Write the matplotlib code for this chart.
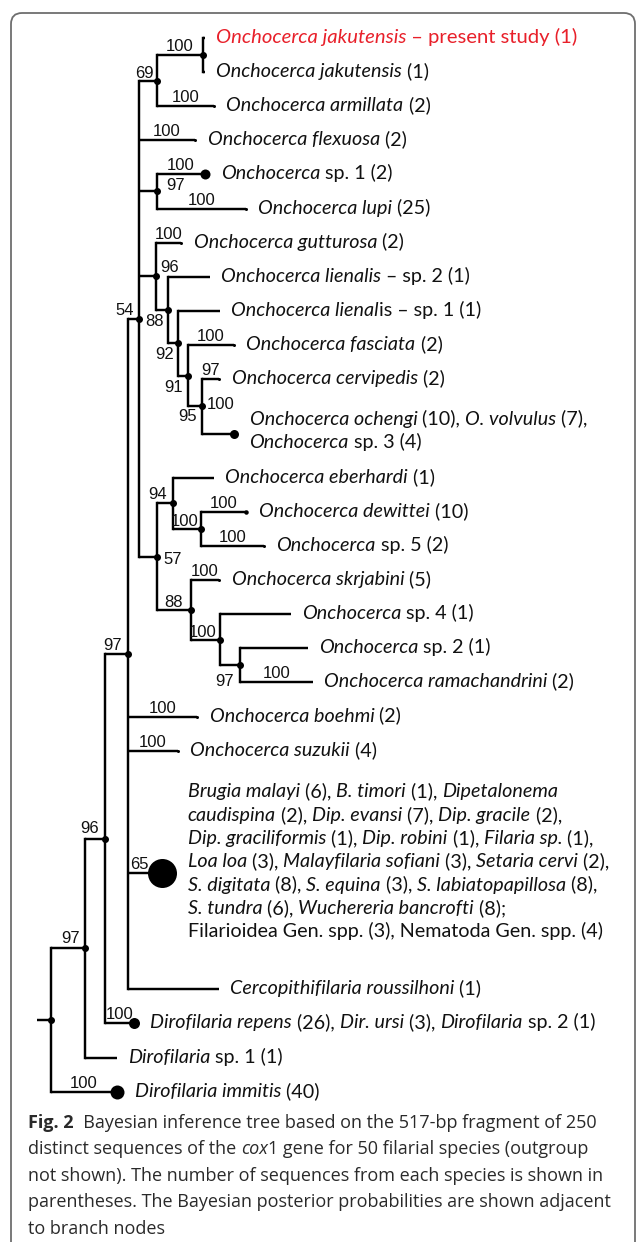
import re
import matplotlib
matplotlib.use("Agg")
import matplotlib.pyplot as plt
from matplotlib.font_manager import FontProperties
from matplotlib.patches import FancyBboxPatch
from matplotlib.transforms import IdentityTransform

# ============================ DATA ============================
# tree topology: node, parent, branch length (arbitrary units)
NODE = ["root", "n97b", "immitis", "n96", "dsp1", "n97a", "repens", "n54", "boehmi", "suzukii",
        "others", "cerco",
        "n69", "flexuosa", "n97s", "n96o", "n57", "n100j", "armillata", "jak_new", "jak", "sp1", "lupi",
        "gutturosa", "n88", "lien2", "n92", "lien1", "n91", "fasciata", "n95", "cervipedis", "ochengi",
        "n94", "n88b", "eberhardi", "n100d", "dewittei", "sp5", "skrjabini", "n100b", "sp4", "n97c",
        "sp2", "rama"]
PARENT = [None, "root", "root", "n97b", "n97b", "n96", "n96", "n97a", "n97a", "n97a",
          "n97a", "n97a",
          "n54", "n54", "n54", "n54", "n54", "n69", "n69", "n100j", "n100j", "n97s", "n97s",
          "n96o", "n96o", "n88", "n88", "n92", "n92", "n91", "n91", "n95", "n95",
          "n57", "n57", "n94", "n94", "n100d", "n100d", "n88b", "n88b", "n100b", "n100b",
          "n97c", "n97c"]
BRANCH = [14, 34, 66, 20, 32, 23, 29, 11, 69, 50,
          34, 91,
          18, 56, 18, 17, 18, 46, 57, 2, 2, 48, 89,
          25, 12, 42, 10, 42, 10, 46, 14, 17, 32,
          16, 34, 41, 28, 45, 63, 28, 29, 71, 20,
          68, 73]

# Bayesian posterior probabilities
SUPPORT_NODE = ["n100j", "armillata", "n69", "flexuosa", "sp1", "n97s", "lupi", "gutturosa", "n96o",
                "n54", "n88", "n92", "n91", "n95", "ochengi", "cervipedis", "fasciata", "n94",
                "n100d", "dewittei", "sp5", "n57", "skrjabini", "n88b", "n100b", "n97c", "rama",
                "n97a", "boehmi", "suzukii", "others", "n96", "n97b", "repens", "immitis"]
SUPPORT_VAL = [100, 100, 69, 100, 100, 97, 100, 100, 96,
               54, 88, 92, 91, 95, 100, 97, 100, 94,
               100, 100, 100, 57, 100, 88, 100, 97, 100,
               97, 100, 100, 65, 96, 97, 100, 100]

# leaf labels (*...* = italic)
LEAF_NAME = ["jak_new", "jak", "armillata", "flexuosa", "sp1", "lupi", "gutturosa", "lien2", "lien1",
             "fasciata", "cervipedis", "ochengi", "eberhardi", "dewittei", "sp5", "skrjabini", "sp4",
             "sp2", "rama", "boehmi", "suzukii", "others", "cerco", "repens", "dsp1", "immitis"]
LEAF_LABEL = [
    "*Onchocerca jakutensis* – present study (1)",
    "*Onchocerca jakutensis* (1)",
    "*Onchocerca armillata* (2)",
    "*Onchocerca flexuosa* (2)",
    "*Onchocerca* sp. 1 (2)",
    "*Onchocerca lupi* (25)",
    "*Onchocerca gutturosa* (2)",
    "*Onchocerca lienalis* – sp. 2 (1)",
    "*Onchocerca lienal*is – sp. 1 (1)",
    "*Onchocerca fasciata* (2)",
    "*Onchocerca cervipedis* (2)",
    "*Onchocerca ochengi* (10), *O. volvulus* (7),\n*Onchocerca* sp. 3 (4)",
    "*Onchocerca eberhardi* (1)",
    "*Onchocerca dewittei* (10)",
    "*Onchocerca* sp. 5 (2)",
    "*Onchocerca skrjabini* (5)",
    "*Onchocerca* sp. 4 (1)",
    "*Onchocerca* sp. 2 (1)",
    "*Onchocerca ramachandrini* (2)",
    "*Onchocerca boehmi* (2)",
    "*Onchocerca suzukii* (4)",
    "*Brugia malayi* (6), *B. timori* (1), *Dipetalonema*\n"
    "*caudispina* (2), *Dip. evansi* (7), *Dip. gracile* (2),\n"
    "*Dip. graciliformis* (1), *Dip. robini* (1), *Filaria sp.* (1),\n"
    "*Loa loa* (3), *Malayfilaria sofiani* (3), *Setaria cervi* (2),\n"
    "*S. digitata* (8), *S. equina* (3), *S. labiatopapillosa* (8),\n"
    "*S. tundra* (6), *Wuchereria bancrofti* (8);\n"
    "Filarioidea Gen. spp. (3), Nematoda Gen. spp. (4)",
    "*Cercopithifilaria roussilhoni* (1)",
    "*Dirofilaria repens* (26), *Dir. ursi* (3), *Dirofilaria* sp. 2 (1)",
    "*Dirofilaria* sp. 1 (1)",
    "*Dirofilaria immitis* (40)",
]

CAPTION = [
    "#Fig. 2#  Bayesian inference tree based on the 517-bp fragment of 250",
    "distinct sequences of the *cox*1 gene for 50 filarial species (outgroup",
    "not shown). The number of sequences from each species is shown in",
    "parentheses. The Bayesian posterior probabilities are shown adjacent",
    "to branch nodes",
]

# ============================ LAYOUT / STYLE ============================
LEAF_ROW = {"jak_new": 0, "jak": 1, "armillata": 2, "flexuosa": 3, "sp1": 4, "lupi": 5,
            "gutturosa": 6, "lien2": 7, "lien1": 8, "fasciata": 9, "cervipedis": 10,
            "ochengi": 11.6, "eberhardi": 12.9, "dewittei": 13.9, "sp5": 14.9, "skrjabini": 15.9,
            "sp4": 16.9, "sp2": 17.9, "rama": 18.9, "boehmi": 19.9, "suzukii": 20.9,
            "others": 24.5, "cerco": 27.9, "repens": 28.9, "dsp1": 29.9, "immitis": 30.9}
# support label placement: (anchor, ha, dx px, dy px up for baseline)
LABEL_POS = {
    "n69": ("node", "right", -3, 3), "n97s": ("node", "left", 9, 1),
    "n96o": ("node", "left", 4, 4), "n54": ("node", "right", -5, 4),
    "n88": ("node", "right", -4, -16), "n92": ("node", "right", -4, -16),
    "n91": ("node", "right", -5, -16), "n95": ("node", "right", -5, -15),
    "ochengi": ("node", "left", -27, 25), "n94": ("node", "right", -6, 4.5),
    "n100d": ("node", "right", -3, 3), "n57": ("node", "left", 6, -7),
    "n88b": ("node", "right", -8, 3), "n100b": ("node", "right", -3, 3),
    "n97c": ("node", "right", -6, -21), "n97a": ("node", "right", -6, 4),
    "n96": ("node", "right", -6, 6), "n97b": ("node", "right", -5, 5),
    "others": ("branch", "center", -6, 4),
}
TIP_DOT = {"sp1": 10, "ochengi": 9, "repens": 11, "immitis": 14, "others": 29, "dewittei": 4.5,
           "armillata": 3, "flexuosa": 3, "lupi": 3, "gutturosa": 3, "fasciata": 3, "cervipedis": 3,
           "skrjabini": 3, "sp5": 3, "boehmi": 3, "suzukii": 3}
FIRST_BASELINE = {"ochengi": -9, "others": -76}
RED_LEAF = "jak_new"

W, H, DPI = 636, 1242, 100
ROW_PX, ROW0_PX = 34.1, 38
X0_PX = 51           # pixel position of the root
LW = 1.75
LINE_SP = 23.3

fig = plt.figure(figsize=(W / DPI, H / DPI), dpi=DPI)
fig.patch.set_facecolor("white")
ax = fig.add_axes([0, 0, 1, 1])
ax.axis("off")
ax.set_xlim(-X0_PX, W - X0_PX)
ax.set_ylim((H - ROW0_PX) / ROW_PX, -ROW0_PX / ROW_PX)

renderer = fig.canvas.get_renderer()
IDT = IdentityTransform()

# ---------------- compute tree coordinates ----------------
parent = dict(zip(NODE, PARENT))
blen = dict(zip(NODE, BRANCH))
children = {n: [] for n in NODE}
for n, p in zip(NODE, PARENT):
    if p is not None:
        children[p].append(n)

xpos, ypos = {}, {}


def set_x(n, x):
    xpos[n] = x
    for c in children[n]:
        set_x(c, x + blen[c])


set_x("root", 0.0)


def get_y(n):
    if not children[n]:
        ypos[n] = LEAF_ROW[n]
    else:
        ys = [get_y(c) for c in children[n]]
        ypos[n] = (min(ys) + max(ys)) / 2.0
    return ypos[n]


get_y("root")

# ---------------- draw branches ----------------
ax.plot([-blen["root"], 0], [ypos["root"]] * 2, color="black", lw=LW, solid_capstyle="butt")
for n in NODE:
    ch = children[n]
    if not ch:
        continue
    ys = [ypos[c] for c in ch]
    ax.plot([xpos[n], xpos[n]], [min(ys), max(ys)], color="black", lw=LW,
            solid_capstyle="projecting")
    for c in ch:
        ax.plot([xpos[n], xpos[c]], [ypos[c], ypos[c]], color="black", lw=LW,
                solid_capstyle="butt")
    ax.plot(xpos[n], ypos[n], "o", ms=7 * 0.72, color="black", mew=0, zorder=5)

for n, d in TIP_DOT.items():
    ax.plot(xpos[n], ypos[n], "o", ms=d * 0.72, color="black", mew=0, zorder=5)

# ---------------- text helpers ----------------
LEAF_SIZE = 14.2
RED_SIZE = 14.6


def leaf_fonts(size):
    rm = FontProperties(family=["Lato", "DejaVu Sans"], size=size)
    it = FontProperties(family=["Lato", "DejaVu Sans"], style="italic", size=size)
    return (rm, it, it)


fp_leaf = leaf_fonts(LEAF_SIZE)
fp_red = leaf_fonts(RED_SIZE)
fp_sup = FontProperties(family=["Liberation Sans Narrow", "Liberation Sans"], size=12)
CAP_SIZE = 13.0
fp_cap = FontProperties(family=["Open Sans", "DejaVu Sans"], size=CAP_SIZE)
fp_cap_b = FontProperties(family=["Open Sans", "DejaVu Sans"], weight="bold", size=CAP_SIZE)
fp_cap_i = FontProperties(family=["Open Sans", "DejaVu Sans"], style="italic", size=CAP_SIZE)


def adv(s, fp):
    w1 = renderer.get_text_width_height_descent("x" + s + "x", fp, False)[0]
    w0 = renderer.get_text_width_height_descent("xx", fp, False)[0]
    return w1 - w0


def parse(s):
    segs, it, bf = [], False, False
    for tok in re.split(r"([*#])", s):
        if tok == "*":
            it = not it
        elif tok == "#":
            bf = not bf
        elif tok:
            segs.append((tok, it, bf))
    return segs


def draw_runs(xd, yd, s, fps, color):
    rm, it, bf = fps
    for seg, i, b in parse(s):
        fp = bf if b else (it if i else rm)
        fig.text(xd, yd, seg, fontproperties=fp, color=color, ha="left", va="baseline",
                 transform=IDT)
        xd += adv(seg, fp)


def to_disp(x, y):
    return ax.transData.transform((x, y))

# ---------------- leaf labels ----------------
for name, label in zip(LEAF_NAME, LEAF_LABEL):
    xd, yd = to_disp(xpos[name], ypos[name])
    xd += TIP_DOT.get(name, 0) / 2.0 + 11
    yd -= FIRST_BASELINE.get(name, 5)
    red = name == RED_LEAF
    color = "#e8202a" if red else "#111111"
    fps = fp_red if red else fp_leaf
    for k, line in enumerate(label.split("\n")):
        draw_runs(xd, yd - k * LINE_SP, line, fps, color)

# ---------------- support values ----------------
for n, v in zip(SUPPORT_NODE, SUPPORT_VAL):
    anchor, ha, dx, dy = LABEL_POS.get(n, ("branch", "center", 0, 4))
    if anchor == "branch":
        xd, yd = to_disp((xpos[n] + xpos[parent[n]]) / 2.0, ypos[n])
    else:
        xd, yd = to_disp(xpos[n], ypos[n])
    fig.text(xd + dx, yd + dy, str(v), fontproperties=fp_sup, color="#111111", ha=ha,
             va="baseline", transform=IDT)

# ---------------- caption ----------------
for k, line in enumerate(CAPTION):
    draw_runs(28, H - 1128 - k * 26.4, line, (fp_cap, fp_cap_i, fp_cap_b), "#2a2a2a")

# ---------------- frame ----------------
frame = FancyBboxPatch((11, -60), 624, H - 13 + 60, boxstyle="round,pad=0,rounding_size=11",
                       transform=IDT, fc="none", ec="#6e6e6e", lw=1.3)
fig.add_artist(frame)

fig.savefig("out.png", dpi=DPI, facecolor="white")
